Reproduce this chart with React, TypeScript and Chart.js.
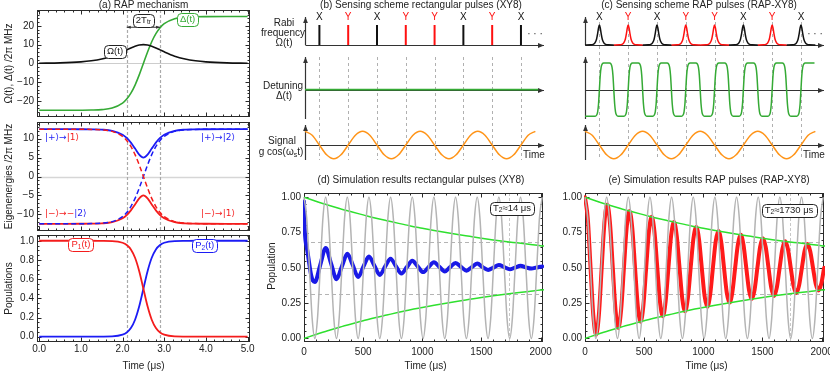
import React, { useEffect, useRef } from 'react';
import { Chart, registerables } from 'chart.js';

Chart.register(...registerables);

const W = 830;
const H = 373;
const FONT = '"Liberation Sans", Arial, "DejaVu Sans", sans-serif';
const FONT_SYM = '"DejaVu Sans", "Liberation Sans", sans-serif';

const BLUE = '#1c1cf5';
const RED = '#f41c1c';
const GREEN_A = '#35aa35';
const GREEN_SIM = '#2ee02e';
const ORANGE = '#ff9418';
const GRAY_OSC = '#b4b4b4';

// ---------------- (a) RAP mechanism ----------------
const rapTimes = [0, 0.5, 1, 1.25, 1.5, 1.75, 2, 2.1, 2.2, 2.3, 2.4, 2.5, 2.6, 2.7, 2.8, 2.9, 3, 3.25, 3.5, 3.75, 4, 4.5, 5];
const rabiValues = [0.1, 0.28, 0.82, 1.39, 2.35, 3.88, 6.17, 7.22, 8.26, 9.16, 9.78, 10, 9.78, 9.16, 8.26, 7.22, 6.17, 3.88, 2.35, 1.39, 0.82, 0.28, 0.1];
const detuningValues = [-25, -25, -24.97, -24.9, -24.67, -23.85, -21.2, -19.04, -15.88, -11.55, -6.12, 0, 6.12, 11.55, 15.88, 19.04, 21.2, 23.85, 24.67, 24.9, 24.97, 25, 25];
const eigenPlus = [12.5, 12.5, 12.49, 12.47, 12.39, 12.08, 11.04, 10.18, 8.95, 7.37, 5.77, 5.0, 5.77, 7.37, 8.95, 10.18, 11.04, 12.08, 12.39, 12.47, 12.49, 12.5, 12.5];
const eigenMinus = [-12.5, -12.5, -12.49, -12.47, -12.39, -12.08, -11.04, -10.18, -8.95, -7.37, -5.77, -5.0, -5.77, -7.37, -8.95, -10.18, -11.04, -12.08, -12.39, -12.47, -12.49, -12.5, -12.5];
const diabaticUp = [-12.5, -12.5, -12.49, -12.45, -12.34, -11.93, -10.6, -9.52, -7.94, -5.78, -3.06, 0, 3.06, 5.78, 7.94, 9.52, 10.6, 11.93, 12.34, 12.45, 12.49, 12.5, 12.5];
const diabaticDown = [12.5, 12.5, 12.49, 12.45, 12.34, 11.93, 10.6, 9.52, 7.94, 5.78, 3.06, 0, -3.06, -5.78, -7.94, -9.52, -10.6, -11.93, -12.34, -12.45, -12.49, -12.5, -12.5];
const pop1 = [1, 1, 1, 0.9999, 0.999, 0.997, 0.979, 0.956, 0.91, 0.823, 0.683, 0.5, 0.317, 0.177, 0.09, 0.044, 0.021, 0.003, 0.001, 0.0001, 0, 0, 0];
const pop2 = [0, 0, 0, 0.0001, 0.001, 0.003, 0.021, 0.044, 0.09, 0.177, 0.317, 0.5, 0.683, 0.823, 0.91, 0.956, 0.979, 0.997, 0.999, 0.9999, 1, 1, 1];
const transitionEdges = [2.1, 2.9];

// ---------------- (b),(c) sensing schemes ----------------
const pulseTimes = [0.5, 1.5, 2.5, 3.5, 4.5, 5.5, 6.5, 7.5];
const pulseKinds = ['X', 'Y', 'X', 'Y', 'Y', 'X', 'Y', 'X'];
const rectPulseLevels = [0, 1];
const rapPulseOffsets = [-0.5, -0.3, -0.2, -0.15, -0.1, -0.06, -0.03, 0, 0.03, 0.06, 0.1, 0.15, 0.2, 0.3, 0.5];
const rapPulseShape = [0, 0.007, 0.046, 0.12, 0.29, 0.58, 0.86, 1, 0.86, 0.58, 0.29, 0.12, 0.046, 0.007, 0];
const flatDetuningTimes = [0, 8.1];
const flatDetuningValues = [0, 0];
const sweepOffsets = [-0.15, -0.1, -0.06, -0.03, 0, 0.03, 0.06, 0.1, 0.15];
const sweepRise = [-1, -0.96, -0.83, -0.54, 0, 0.54, 0.83, 0.96, 1];
const sweepReset = [1, 0.96, 0.83, 0.54, 0, -0.54, -0.83, -0.96, -1];
const sweepResetDelay = 0.5;
const sweepStart = { x: 0, y: -1 };
const sweepEnd = { x: 7.97, y: 1 };
const signalTimes = [0, 0.25, 0.5, 0.75, 1, 1.25, 1.5, 1.75, 2, 2.25, 2.5, 2.75, 3, 3.25, 3.5, 3.75, 4, 4.25, 4.5, 4.75, 5, 5.25, 5.5, 5.75, 6, 6.25, 6.5, 6.75, 7, 7.25, 7.5, 7.75, 8];
const signalValues = [1, 0.71, 0, -0.71, -1, -0.71, 0, 0.71, 1, 0.71, 0, -0.71, -1, -0.71, 0, 0.71, 1, 0.71, 0, -0.71, -1, -0.71, 0, 0.71, 1, 0.71, 0, -0.71, -1, -0.71, 0, 0.71, 1];

// ---------------- (d),(e) simulations ----------------
const simTimes = [0, 22.9, 45.8, 68.6, 91.5, 114.4, 137.3, 160.1, 183, 205.9, 228.8, 251.6, 274.5, 297.4, 320.3, 343.1, 366, 388.9, 411.8, 434.6, 457.5, 480.4, 503.3, 526.1, 549, 571.9, 594.8, 617.6, 640.5, 663.4, 686.3, 709.1, 732, 754.9, 777.8, 800.6, 823.5, 846.4, 869.3, 892.1, 915, 937.9, 960.8, 983.6, 1006.5, 1029.4, 1052.3, 1075.1, 1098, 1120.9, 1143.8, 1166.6, 1189.5, 1212.4, 1235.3, 1258.1, 1281, 1303.9, 1326.8, 1349.6, 1372.5, 1395.4, 1418.3, 1441.1, 1464, 1486.9, 1509.8, 1532.6, 1555.5, 1578.4, 1601.3, 1624.1, 1647, 1669.9, 1692.8, 1715.6, 1738.5, 1761.4, 1784.3, 1807.1, 1830, 1852.9, 1875.8, 1898.6, 1921.5, 1944.4, 1967.3, 1990.1, 2013];
const idealValues = [
  1, 0.854, 0.5, 0.146, 0, 0.146, 0.5, 0.854, 1, 0.854, 0.5, 0.146, 0, 0.146, 0.5, 0.854,
  1, 0.854, 0.5, 0.146, 0, 0.146, 0.5, 0.854, 1, 0.854, 0.5, 0.146, 0, 0.146, 0.5, 0.854,
  1, 0.854, 0.5, 0.146, 0, 0.146, 0.5, 0.854, 1, 0.854, 0.5, 0.146, 0, 0.146, 0.5, 0.854,
  1, 0.854, 0.5, 0.146, 0, 0.146, 0.5, 0.854, 1, 0.854, 0.5, 0.146, 0, 0.146, 0.5, 0.854,
  1, 0.854, 0.5, 0.146, 0, 0.146, 0.5, 0.854, 1, 0.854, 0.5, 0.146, 0, 0.146, 0.5, 0.854,
  1, 0.854, 0.5, 0.146, 0, 0.146, 0.5, 0.854, 1];
const rapXY8Times = [0, 23.5, 47, 70.5, 94, 117.5, 141, 164.5, 188, 211.5, 235, 258.5, 282, 305.5, 329, 352.5, 376, 399.5, 423, 446.5, 470, 493.5, 517, 540.5, 564, 587.5, 611, 634.5, 658, 681.5, 705, 728.5, 752, 775.5, 799, 822.5, 846, 869.5, 893, 916.5, 940, 963.5, 987, 1010.5, 1034, 1057.5, 1081, 1104.5, 1128, 1151.5, 1175, 1198.5, 1222, 1245.5, 1269, 1292.5, 1316, 1339.5, 1363, 1386.5, 1410, 1433.5, 1457, 1480.5, 1504, 1527.5, 1551, 1574.5, 1598, 1621.5, 1645, 1668.5, 1692, 1715.5, 1739, 1762.5, 1786, 1809.5, 1833, 1856.5, 1880, 1903.5, 1927, 1950.5, 1974, 1997.5, 2021, 2044.5];
const rapXY8Values = [
  1.0, 0.849, 0.5, 0.161, 0.026, 0.17, 0.5, 0.821,
  0.949, 0.813, 0.5, 0.196, 0.075, 0.204, 0.5, 0.788,
  0.902, 0.781, 0.5, 0.227, 0.119, 0.234, 0.5, 0.759,
  0.861, 0.752, 0.5, 0.255, 0.158, 0.262, 0.5, 0.732,
  0.824, 0.726, 0.5, 0.28, 0.193, 0.286, 0.5, 0.708,
  0.79, 0.703, 0.5, 0.303, 0.225, 0.308, 0.5, 0.687,
  0.761, 0.682, 0.5, 0.323, 0.253, 0.328, 0.5, 0.667,
  0.734, 0.663, 0.5, 0.341, 0.279, 0.346, 0.5, 0.65,
  0.71, 0.646, 0.5, 0.358, 0.301, 0.362, 0.5, 0.635,
  0.688, 0.631, 0.5, 0.372, 0.322, 0.376, 0.5, 0.621,
  0.669, 0.618, 0.5, 0.386, 0.34, 0.389, 0.5, 0.608];
const xy8Times = [0, 3, 6, 10, 15, 22, 32, 46, 60, 75, 92, 137, 183, 229, 275, 320, 366, 412, 458, 503, 549, 595, 641, 686, 732, 778, 824, 869, 915, 961, 1007, 1052, 1098, 1144, 1190, 1235, 1281, 1327, 1373, 1418, 1464, 1510, 1556, 1601, 1647, 1693, 1739, 1784, 1830, 1876, 1922, 1967, 2013];
const xy8Values = [0.97, 0.86, 0.78, 0.72, 0.68, 0.65, 0.6, 0.52, 0.45, 0.41,
  0.4, 0.52, 0.64, 0.53, 0.42, 0.51, 0.6, 0.52, 0.435, 0.51, 0.58, 0.515, 0.45, 0.51, 0.565, 0.51, 0.46, 0.505, 0.55, 0.51, 0.47, 0.505, 0.54, 0.507, 0.475, 0.505, 0.535, 0.507, 0.48, 0.505, 0.53, 0.505, 0.485, 0.502, 0.52, 0.505, 0.49, 0.502, 0.515, 0.503, 0.495, 0.503, 0.51];
const envTimes = [0, 100, 200, 300, 400, 500, 600, 700, 800, 900, 1000, 1100, 1200, 1300, 1400, 1500, 1600, 1700, 1800, 1900, 2000, 2100];
const envUpper = [1, 0.972, 0.945, 0.92, 0.897, 0.875, 0.853, 0.834, 0.815, 0.797, 0.781, 0.765, 0.75, 0.736, 0.723, 0.71, 0.698, 0.687, 0.677, 0.667, 0.657, 0.649];
const envLower = [0, 0.028, 0.055, 0.08, 0.103, 0.125, 0.147, 0.166, 0.185, 0.203, 0.219, 0.235, 0.25, 0.264, 0.277, 0.29, 0.302, 0.313, 0.323, 0.333, 0.343, 0.351];
const decayLevels = [0.316, 0.684];
const t2Marker = 1730;

// ---------------- helpers ----------------
type Seg = { t: string; sub?: boolean; c?: string; f?: string };
type Area = [number, number, number, number];

function range(a: number, b: number, s: number) {
  const out: number[] = [];
  for (let v = a; v <= b + 1e-9; v += s) out.push(Math.round(v * 1e6) / 1e6);
  return out;
}

function txt(ctx: CanvasRenderingContext2D, s: string, x: number, y: number, size = 10, color = '#222', align: CanvasTextAlign = 'center', rot = 0) {
  ctx.save();
  ctx.font = `${size}px ${FONT}`;
  ctx.fillStyle = color;
  ctx.textAlign = align;
  ctx.textBaseline = 'middle';
  if (rot) {
    ctx.translate(x, y);
    ctx.rotate(rot);
    ctx.fillText(s, 0, 0);
  } else ctx.fillText(s, x, y);
  ctx.restore();
}

function segFont(s: Seg, size: number) {
  return `${s.sub ? size * 0.7 : size}px ${s.f || FONT}`;
}

function richW(ctx: CanvasRenderingContext2D, segs: Seg[], size: number) {
  let w = 0;
  for (const s of segs) {
    ctx.font = segFont(s, size);
    w += ctx.measureText(s.t).width;
  }
  return w;
}

function rich(ctx: CanvasRenderingContext2D, segs: Seg[], x: number, y: number, size: number, color: string, align = 'center') {
  ctx.save();
  const w = richW(ctx, segs, size);
  let cx = align === 'center' ? x - w / 2 : align === 'right' ? x - w : x;
  ctx.textAlign = 'left';
  ctx.textBaseline = 'middle';
  for (const s of segs) {
    ctx.font = segFont(s, size);
    ctx.fillStyle = s.c || color;
    ctx.fillText(s.t, cx, s.sub ? y + size * 0.28 : y);
    cx += ctx.measureText(s.t).width;
  }
  ctx.restore();
}

function boxLabel(ctx: CanvasRenderingContext2D, segs: Seg[], x: number, y: number, size: number, color: string) {
  ctx.save();
  const w = richW(ctx, segs, size) + 6;
  const h = size + 3;
  ctx.beginPath();
  (ctx as any).roundRect(Math.round(x - w / 2) + 0.5, Math.round(y - h / 2) + 0.5, Math.round(w), Math.round(h), 4);
  ctx.fillStyle = '#fff';
  ctx.fill();
  ctx.strokeStyle = color;
  ctx.lineWidth = 1;
  ctx.stroke();
  ctx.restore();
  rich(ctx, segs, x, y, size, color);
}

function arrow(ctx: CanvasRenderingContext2D, x1: number, y1: number, x2: number, y2: number, color = '#333', lw = 1.2, head = 5) {
  ctx.save();
  ctx.strokeStyle = color;
  ctx.fillStyle = color;
  ctx.lineWidth = lw;
  ctx.beginPath();
  ctx.moveTo(x1, y1);
  ctx.lineTo(x2, y2);
  ctx.stroke();
  const a = Math.atan2(y2 - y1, x2 - x1);
  const ca = Math.cos(a), sa = Math.sin(a);
  ctx.beginPath();
  ctx.moveTo(x2, y2);
  ctx.lineTo(x2 - head * ca + head * 0.4 * sa, y2 - head * sa - head * 0.4 * ca);
  ctx.lineTo(x2 - head * ca - head * 0.4 * sa, y2 - head * sa + head * 0.4 * ca);
  ctx.closePath();
  ctx.fill();
  ctx.restore();
}

function px(c: Chart, v: number) { return c.scales.x.getPixelForValue(v); }
function py(c: Chart, v: number) { return c.scales.y.getPixelForValue(v); }

function hline(c: Chart, v: number, color: string, lw: number, dash: number[] = []) {
  const ctx = c.ctx, a = c.chartArea;
  const y = Math.round(py(c, v)) + 0.5;
  ctx.save();
  ctx.strokeStyle = color; ctx.lineWidth = lw; ctx.setLineDash(dash);
  ctx.beginPath(); ctx.moveTo(a.left, y); ctx.lineTo(a.right, y); ctx.stroke();
  ctx.restore();
}

function vline(c: Chart, v: number, color: string, lw: number, dash: number[] = [], y1?: number, y2?: number) {
  const ctx = c.ctx, a = c.chartArea;
  const x = Math.round(px(c, v)) + 0.5;
  ctx.save();
  ctx.strokeStyle = color; ctx.lineWidth = lw; ctx.setLineDash(dash);
  ctx.beginPath(); ctx.moveTo(x, y1 ?? a.top); ctx.lineTo(x, y2 ?? a.bottom); ctx.stroke();
  ctx.restore();
}

type FrameOpts = {
  xMaj: number[]; xMin: number[]; yMaj: number[]; yMin: number[];
  xFmt?: (v: number) => string; yFmt?: (v: number) => string; xOff?: number;
};

function frame(c: Chart, o: FrameOpts) {
  const ctx = c.ctx, a = c.chartArea;
  const L = Math.round(a.left) + 0.5, R = Math.round(a.right) - 0.5, T = Math.round(a.top) + 0.5, B = Math.round(a.bottom) - 0.5;
  ctx.save();
  ctx.strokeStyle = '#2a2a2a';
  ctx.lineWidth = 1;
  ctx.strokeRect(L, T, R - L, B - T);
  ctx.beginPath();
  const xt = (vals: number[], len: number) => {
    for (const v of vals) {
      const x = Math.round(px(c, v)) + 0.5;
      if (x < L || x > R) continue;
      ctx.moveTo(x, B); ctx.lineTo(x, B - len);
      ctx.moveTo(x, T); ctx.lineTo(x, T + len);
    }
  };
  const yt = (vals: number[], len: number) => {
    for (const v of vals) {
      const y = Math.round(py(c, v)) + 0.5;
      if (y < T || y > B) continue;
      ctx.moveTo(L, y); ctx.lineTo(L + len, y);
      ctx.moveTo(R, y); ctx.lineTo(R - len, y);
    }
  };
  xt(o.xMaj, 4); xt(o.xMin, 2); yt(o.yMaj, 4); yt(o.yMin, 2);
  ctx.stroke();
  ctx.restore();
}

function frameLabels(c: Chart, o: FrameOpts) {
  const ctx = c.ctx, a = c.chartArea;
  if (o.xFmt) for (const v of o.xMaj) txt(ctx, o.xFmt(v), px(c, v), a.bottom + (o.xOff ?? 8), 10, '#222');
  if (o.yFmt) for (const v of o.yMaj) txt(ctx, o.yFmt(v), a.left - 3, py(c, v), 10, '#222', 'right');
}

const minus = (s: string) => s.replace('-', '\u2212');

function line(xs: number[], ys: number[], color: string, width: number, extra: any = {}) {
  return {
    data: xs.map((x, i) => ({ x, y: ys[i] })),
    borderColor: color,
    borderWidth: width,
    pointRadius: 0,
    fill: false,
    cubicInterpolationMode: 'monotone',
    clip: 1,
    ...extra,
  };
}

function mk(canvas: HTMLCanvasElement, area: Area, xr: [number, number], yr: [number, number], datasets: any[],
  before?: (c: Chart) => void, after?: (c: Chart) => void) {
  return new Chart(canvas, {
    type: 'line',
    data: { datasets },
    options: {
      animation: false,
      responsive: false,
      maintainAspectRatio: false,
      events: [],
      layout: { padding: { left: area[0], top: area[1], right: W - area[2], bottom: H - area[3] } },
      plugins: { legend: { display: false }, tooltip: { enabled: false }, title: { display: false } },
      scales: {
        x: { type: 'linear', min: xr[0], max: xr[1], display: false },
        y: { type: 'linear', min: yr[0], max: yr[1], display: false },
      },
    },
    plugins: [{
      id: 'deco',
      beforeDatasetsDraw: (c: Chart) => { if (before) before(c); },
      afterDraw: (c: Chart) => { if (after) after(c); },
    }],
  } as any);
}

// ---------------- panel builders ----------------
const aXR: [number, number] = [-0.053, 5.058];
const aXMaj = range(0, 5, 1);
const aXMin = range(0, 5, 0.2);

function buildA1(cv: HTMLCanvasElement) {
  const fo: FrameOpts = { xMaj: aXMaj, xMin: aXMin, yMaj: [-20, -10, 0, 10, 20], yMin: range(-28, 28, 2), yFmt: (v) => minus(String(v)) };
  return mk(cv, [37, 10, 250, 117], aXR, [-28.6, 28.5],
    [line(rapTimes, rabiValues, '#111', 1.6), line(rapTimes, detuningValues, GREEN_A, 1.6)],
    (c) => {
      hline(c, 0, '#cdcdcd', 1);
      for (const t of transitionEdges) vline(c, t, '#aaa', 1.2, [3, 2]);
      frame(c, fo);
    },
    (c) => {
      const ctx = c.ctx;
      frameLabels(c, fo);
      txt(ctx, '(a) RAP mechanism', 143.5, 5, 10, '#222');
      txt(ctx, '\u03A9(t), \u0394(t) /2\u03C0 MHz', 9, 63.5, 10, '#222', 'center', -Math.PI / 2);
      boxLabel(ctx, [{ t: '\u03A9(t)' }], px(c, 1.82), py(c, 6.4), 9.5, '#222');
      boxLabel(ctx, [{ t: '\u0394(t)' }], px(c, 3.56), py(c, 23.4), 9.5, GREEN_A);
      const y = py(c, 19.3);
      arrow(ctx, px(c, 2.5), y, px(c, transitionEdges[0]), y, '#333', 1, 4);
      arrow(ctx, px(c, 2.5), y, px(c, transitionEdges[1]), y, '#333', 1, 4);
      boxLabel(ctx, [{ t: '2T' }, { t: 'tr', sub: true }], px(c, 2.5), py(c, 23.2), 9.5, '#222');
    });
}

function buildA2(cv: HTMLCanvasElement) {
  const fo: FrameOpts = { xMaj: aXMaj, xMin: aXMin, yMaj: [-10, -5, 0, 5, 10], yMin: range(-14, 14, 1), yFmt: (v) => minus(String(v)) };
  return mk(cv, [37, 122, 250, 231], aXR, [-14.4, 14.4],
    [
      line(rapTimes, diabaticDown, RED, 1.5, { borderDash: [5, 3] }),
      line(rapTimes, diabaticUp, BLUE, 1.5, { borderDash: [5, 3] }),
      line(rapTimes, eigenMinus, RED, 1.8),
      line(rapTimes, eigenPlus, BLUE, 1.8),
    ],
    (c) => {
      hline(c, 0, '#d6d6d6', 1.5);
      for (const t of transitionEdges) vline(c, t, '#aaa', 1.2, [3, 2]);
      frame(c, fo);
    },
    (c) => {
      const ctx = c.ctx;
      frameLabels(c, fo);
      txt(ctx, 'Eigenenergies /2\u03C0 MHz', 9, 176.5, 10, '#222', 'center', -Math.PI / 2);
      const S = FONT_SYM;
      rich(ctx, [{ t: '|+\u27E9\u2192', c: BLUE, f: S }, { t: '|1\u27E9', c: RED, f: S }], 45, 138, 9, BLUE, 'left');
      rich(ctx, [{ t: '|\u2212\u27E9\u2192\u2212', c: RED, f: S }, { t: '|2\u27E9', c: BLUE, f: S }], 45, 214, 9, RED, 'left');
      rich(ctx, [{ t: '|+\u27E9\u2192|2\u27E9', c: BLUE, f: S }], 201, 138, 9, BLUE, 'left');
      rich(ctx, [{ t: '|\u2212\u27E9\u2192|1\u27E9', c: RED, f: S }], 201, 214, 9, RED, 'left');
    });
}

function buildA3(cv: HTMLCanvasElement) {
  const fo: FrameOpts = {
    xMaj: aXMaj, xMin: aXMin, yMaj: range(0, 1, 0.2), yMin: range(0, 1.05, 0.05),
    xFmt: (v) => v.toFixed(1), yFmt: (v) => v.toFixed(1), xOff: 7,
  };
  return mk(cv, [37, 235, 250, 342], aXR, [-0.055, 1.06],
    [line(rapTimes, pop1, RED, 1.8), line(rapTimes, pop2, BLUE, 1.8)],
    (c) => {
      for (const t of transitionEdges) vline(c, t, '#aaa', 1.2, [3, 2]);
      frame(c, fo);
    },
    (c) => {
      const ctx = c.ctx;
      frameLabels(c, fo);
      txt(ctx, 'Populations', 9, 288.5, 10, '#222', 'center', -Math.PI / 2);
      txt(ctx, 'Time (\u03BCs)', 143.5, 366, 10, '#222');
      boxLabel(ctx, [{ t: 'P' }, { t: '1', sub: true }, { t: '(t)' }], px(c, 1.0), py(c, 0.965), 9.5, RED);
      boxLabel(ctx, [{ t: 'P' }, { t: '2', sub: true }, { t: '(t)' }], px(c, 3.97), py(c, 0.95), 9.5, BLUE);
    });
}

const sXR: [number, number] = [0, 8.3];

function schemeAxes(c: Chart, baseline: number) {
  const ctx = c.ctx, a = c.chartArea;
  const y0 = Math.round(py(c, baseline)) + 0.5;
  const x0 = Math.round(a.left) + 0.5;
  arrow(ctx, x0, y0, a.right, y0, '#333', 1.2, 6);
  arrow(ctx, x0, a.bottom, x0, a.top, '#333', 1.2, 6);
}

function pulseColor(k: string) { return k === 'X' ? '#111' : '#ff1010'; }

function buildRow1(cv: HTMLCanvasElement, left: number, rap: boolean) {
  const datasets = rap
    ? pulseTimes.map((p, i) => line(rapPulseOffsets.map((o) => p + o), rapPulseShape, pulseColor(pulseKinds[i]), 1.5, { clip: false }))
    : pulseTimes.map((p, i) => line([p, p], rectPulseLevels, pulseColor(pulseKinds[i]), 2, { cubicInterpolationMode: 'default', tension: 0, clip: false }));
  return mk(cv, [left, 17, left + 239, 45], sXR, [0, 1.4], datasets,
    (c) => {
      for (const p of pulseTimes) vline(c, p, '#b0b0b0', 1, [3, 3], rap ? 22 : 57, 160);
      schemeAxes(c, 0);
    },
    (c) => {
      const ctx = c.ctx;
      pulseTimes.forEach((p, i) => txt(ctx, pulseKinds[i], px(c, p), 17, 10, pulseKinds[i] === 'X' ? '#111' : '#ff1010'));
      txt(ctx, '\u00B7 \u00B7 \u00B7', c.chartArea.right - 9, 34, 10, '#333');
      if (rap) {
        txt(ctx, '(c) Sensing scheme RAP pulses (RAP-XY8)', 699, 5, 10, '#222');
      } else {
        txt(ctx, '(b) Sensing scheme rectangular pulses (XY8)', 421, 5, 10, '#222');
        txt(ctx, 'Rabi', 284, 23, 10, '#222');
        txt(ctx, 'frequency', 283, 33, 10, '#222');
        txt(ctx, '\u03A9(t)', 284, 43, 10, '#222');
      }
    });
}

function buildRow2(cv: HTMLCanvasElement, left: number, rap: boolean) {
  let ds;
  if (rap) {
    const xs: number[] = [sweepStart.x];
    const ys: number[] = [sweepStart.y];
    pulseTimes.forEach((p, i) => {
      sweepOffsets.forEach((o, j) => { xs.push(p + o); ys.push(sweepRise[j]); });
      if (i < pulseTimes.length - 1) {
        sweepOffsets.forEach((o, j) => { xs.push(p + sweepResetDelay + o); ys.push(sweepReset[j]); });
      }
    });
    xs.push(sweepEnd.x); ys.push(sweepEnd.y);
    ds = [line(xs, ys, GREEN_A, 1.5, { clip: false })];
  } else {
    ds = [line(flatDetuningTimes, flatDetuningValues, GREEN_A, 1.8, { clip: false })];
  }
  return mk(cv, [left, 57, left + 239, 119], sXR, [-1.1, 1.22], ds,
    (c) => schemeAxes(c, 0),
    (c) => {
      if (!rap) {
        txt(c.ctx, 'Detuning', 283, 86, 10, '#222');
        txt(c.ctx, '\u0394(t)', 284, 96.5, 10, '#222');
      }
    });
}

function buildRow3(cv: HTMLCanvasElement, left: number, rap: boolean) {
  return mk(cv, [left, 125, left + 239, 160], sXR, [-1.09, 1.46],
    [line(signalTimes, signalValues, ORANGE, 1.5, { clip: false })],
    (c) => schemeAxes(c, 0),
    (c) => {
      const ctx = c.ctx;
      txt(ctx, 'Time', c.chartArea.right - 10, 155, 10, '#222');
      if (!rap) {
        txt(ctx, 'Signal', 282, 141, 10, '#222');
        rich(ctx, [{ t: 'g cos(\u03C9' }, { t: 's', sub: true }, { t: 't)' }], 281, 152.5, 10, '#222');
      }
    });
}

const simXR: [number, number] = [0, 2020];
const simYR: [number, number] = [-0.025, 1.03];

function buildSim(cv: HTMLCanvasElement, left: number, rap: boolean) {
  const fo: FrameOpts = {
    xMaj: range(0, 2000, 500), xMin: range(0, 2000, 100), yMaj: range(0, 1, 0.25), yMin: range(0, 1, 0.05),
    xFmt: (v) => String(v), yFmt: (v) => v.toFixed(2), xOff: 10,
  };
  const dataSet = rap
    ? line(rapXY8Times, rapXY8Values, '#ff1a1a', 4, { borderCapStyle: 'round', borderJoinStyle: 'round' })
    : line(xy8Times, xy8Values, '#1a1ae6', 4, { borderCapStyle: 'round', borderJoinStyle: 'round' });
  return mk(cv, [left, 193, left + 239, 342], simXR, simYR,
    [
      line(simTimes, idealValues, GRAY_OSC, 1.5),
      line(envTimes, envUpper, GREEN_SIM, 1.5),
      line(envTimes, envLower, GREEN_SIM, 1.5),
      dataSet,
    ],
    (c) => {
      hline(c, 0.5, '#c8c8c8', 1);
      for (const v of decayLevels) hline(c, v, '#b4b4b4', 1.2, [4, 3]);
      vline(c, t2Marker, '#c8c8c8', 1, [3, 2]);
      frame(c, fo);
    },
    (c) => {
      const ctx = c.ctx;
      frameLabels(c, fo);
      const cx = (c.chartArea.left + c.chartArea.right) / 2;
      txt(ctx, 'Time (\u03BCs)', cx + 2, 366, 10, '#222');
      if (rap) {
        txt(ctx, '(e) Simulation results RAP pulses (RAP-XY8)', 709, 180, 10, '#222');
        boxLabel(ctx, [{ t: 'T' }, { t: '2', sub: true }, { t: '\u22481730 \u03BCs' }], 789, 210, 9.5, '#222');
      } else {
        txt(ctx, '(d) Simulation results rectangular pulses (XY8)', 421, 180, 10, '#222');
        txt(ctx, 'Population', 272, 266, 10, '#222', 'center', -Math.PI / 2);
        boxLabel(ctx, [{ t: 'T' }, { t: '2', sub: true }, { t: '\u224814 \u03BCs' }], 512, 208, 9.5, '#222');
      }
    });
}

export default function App() {
  const refs = useRef<(HTMLCanvasElement | null)[]>([]);
  useEffect(() => {
    const cv = refs.current as HTMLCanvasElement[];
    const charts: Chart[] = [
      buildA1(cv[0]),
      buildA2(cv[1]),
      buildA3(cv[2]),
      buildRow1(cv[3], 305, false),
      buildRow2(cv[4], 305, false),
      buildRow3(cv[5], 305, false),
      buildRow1(cv[6], 585, true),
      buildRow2(cv[7], 585, true),
      buildRow3(cv[8], 585, true),
      buildSim(cv[9], 304, false),
      buildSim(cv[10], 585, true),
    ];
    return () => charts.forEach((ch) => ch.destroy());
  }, []);
  return (
    <div style={{ position: 'fixed', left: 0, top: 0, width: W, height: H, background: '#fff', overflow: 'hidden' }}>
      {Array.from({ length: 11 }).map((_, i) => (
        <canvas
          key={i}
          ref={(el) => { refs.current[i] = el; }}
          width={W}
          height={H}
          style={{ position: 'absolute', left: 0, top: 0, width: W, height: H }}
        />
      ))}
    </div>
  );
}
